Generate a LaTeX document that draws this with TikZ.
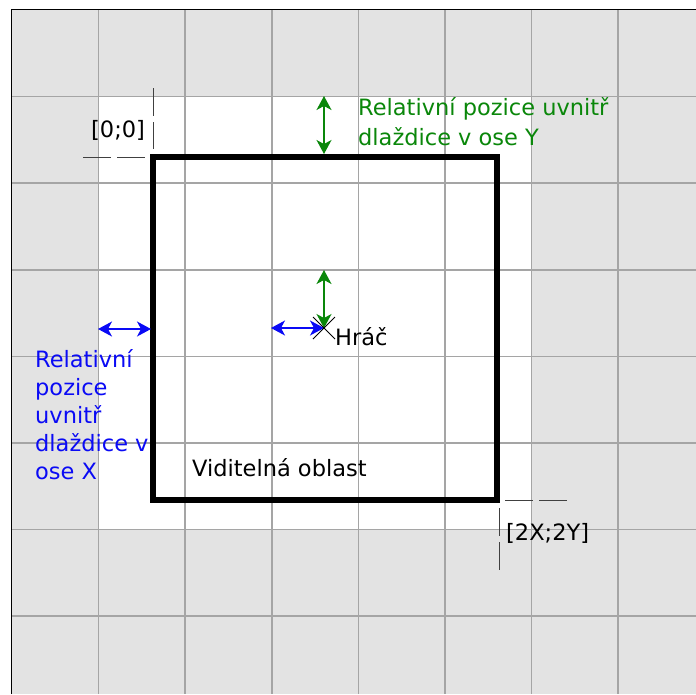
\documentclass[tikz,border=0pt]{standalone}
\usepackage{fontspec}
\setmainfont{DejaVu Sans}
\usetikzlibrary{arrows.meta}
\definecolor{tilegray}{RGB}{227,227,227}
\definecolor{gridgray}{RGB}{165,165,165}
\definecolor{relgreen}{RGB}{10,135,10}
\definecolor{relblue}{RGB}{10,10,245}
\begin{document}
\begin{tikzpicture}[x=1pt,y=-1pt,
  gridline/.style={draw=gridgray,line width=1.5pt},
  dimline/.style={draw=black!75,line width=1pt,dash pattern=on 28pt off 6pt},
  dblarrow/.style={line width=1.3pt,{Stealth[length=14pt,width=15pt,inset=4pt]}-{Stealth[length=14pt,width=15pt,inset=4pt]}},
  lbl/.style={font=\fontsize{22.5}{28}\selectfont,inner sep=0pt,align=left}]
\useasboundingbox (0,0) rectangle (696,694);
% tiles
\fill[tilegray] (12,10) rectangle (696,694);
\fill[white] (98.6,96.6) rectangle (531.6,529.6);
\foreach \k in {1,...,7}{
  \draw[gridline] (12+\k*86.6,10) -- (12+\k*86.6,694);
  \draw[gridline] (12,10+\k*86.6) -- (696,10+\k*86.6);
}
\draw[black,line width=1.5pt] (11.7,694) -- (11.7,9.7) -- (696,9.7);
% visible area
\coordinate (tl) at (153,157);
\coordinate (br) at (497,500);
\draw[black,line width=6pt] (tl) rectangle (br);
% corner markers
\coordinate (h0a) at (83,157);  \coordinate (h0b) at (146,157);
\coordinate (v0a) at (153,88);  \coordinate (v0b) at (153,149);
\draw[dimline] (h0a) -- (h0b);
\draw[dimline] (v0a) -- (v0b);
\node[lbl,anchor=base west] (origin) at (91,137) {[0;0]};
\coordinate (h1a) at (505,500.5); \coordinate (h1b) at (567,500.5);
\coordinate (v1a) at (499,508);   \coordinate (v1b) at (499,570);
\draw[dimline] (h1a) -- (h1b);
\draw[dimline] (v1a) -- (v1b);
\node[lbl,anchor=base west] (corner) at (506,540) {[2X;2Y]};
% top green arrow
\coordinate (gt1) at (324,96);
\coordinate (gt2) at (324,154);
\draw[dblarrow,relgreen] (gt1) -- (gt2);
\node[lbl,text=relgreen,anchor=north west,font=\fontsize{22.5}{30}\selectfont] (ytext) at (358,97) {Relativní pozice uvnitř\\dlaždice v ose Y};
% left blue arrow
\coordinate (bl1) at (98,329);
\coordinate (bl2) at (151,329);
\draw[dblarrow,relblue] (bl1) -- (bl2);
\node[lbl,text=relblue,anchor=north west] (xtext) at (35,349) {Relativní\\pozice\\uvnitř\\dlaždice v\\ose X};
% player
\coordinate (player) at (324,328);
\coordinate (pg) at (324,270);
\coordinate (pb) at (271,328);
\draw[dblarrow,relgreen] (pg) -- (player);
\draw[dblarrow,relblue] (pb) -- (player);
\draw[black,line width=0.8pt] (313,317) -- (335,339) (313,339) -- (335,317);
\node[lbl,anchor=base west] (hrac) at (335,345) {Hráč};
\node[lbl,anchor=base west] (vis) at (192,476) {Viditelná oblast};
\end{tikzpicture}
\end{document}
